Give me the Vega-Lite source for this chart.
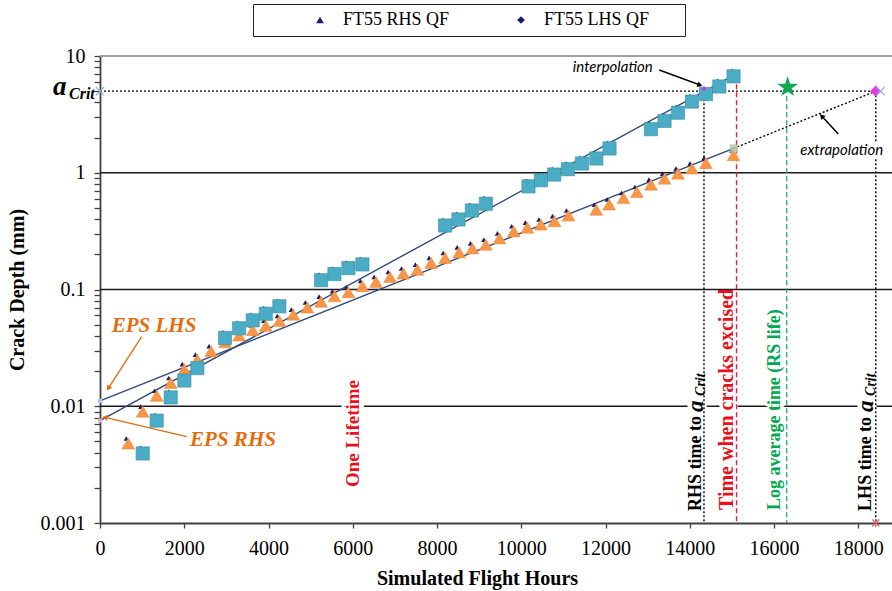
{
  "$schema": "https://vega.github.io/schema/vega-lite/v6.json",
  "width": 792,
  "height": 467,
  "autosize": {"type": "none"},
  "padding": {"left": 100, "top": 56, "right": 0, "bottom": 68},
  "background": "white",
  "config": {
    "view": {"stroke": null},
    "font": "Liberation Serif",
    "legend": {"labelFont": "Liberation Serif", "labelFontSize": 18},
    "style": {"guide-label": {"font": "Liberation Serif"}, "guide-title": {"font": "Liberation Serif"}}
  },
  "datasets": {
    "obs": [
      {"hours": 672, "depth": 0.0048, "series": "FT55 RHS QF"},
      {"hours": 1014, "depth": 0.0090, "series": "FT55 RHS QF"},
      {"hours": 1346, "depth": 0.0123, "series": "FT55 RHS QF"},
      {"hours": 1679, "depth": 0.0158, "series": "FT55 RHS QF"},
      {"hours": 2002, "depth": 0.0208, "series": "FT55 RHS QF"},
      {"hours": 2311, "depth": 0.0251, "series": "FT55 RHS QF"},
      {"hours": 2636, "depth": 0.0296, "series": "FT55 RHS QF"},
      {"hours": 2968, "depth": 0.0354, "series": "FT55 RHS QF"},
      {"hours": 3301, "depth": 0.0404, "series": "FT55 RHS QF"},
      {"hours": 3626, "depth": 0.0449, "series": "FT55 RHS QF"},
      {"hours": 3935, "depth": 0.0489, "series": "FT55 RHS QF"},
      {"hours": 4258, "depth": 0.0537, "series": "FT55 RHS QF"},
      {"hours": 4590, "depth": 0.0609, "series": "FT55 RHS QF"},
      {"hours": 4923, "depth": 0.0701, "series": "FT55 RHS QF"},
      {"hours": 5248, "depth": 0.0787, "series": "FT55 RHS QF"},
      {"hours": 5564, "depth": 0.0875, "series": "FT55 RHS QF"},
      {"hours": 5896, "depth": 0.0948, "series": "FT55 RHS QF"},
      {"hours": 6229, "depth": 0.107, "series": "FT55 RHS QF"},
      {"hours": 6554, "depth": 0.116, "series": "FT55 RHS QF"},
      {"hours": 6887, "depth": 0.128, "series": "FT55 RHS QF"},
      {"hours": 7203, "depth": 0.137, "series": "FT55 RHS QF"},
      {"hours": 7535, "depth": 0.148, "series": "FT55 RHS QF"},
      {"hours": 7860, "depth": 0.169, "series": "FT55 RHS QF"},
      {"hours": 8193, "depth": 0.186, "series": "FT55 RHS QF"},
      {"hours": 8525, "depth": 0.208, "series": "FT55 RHS QF"},
      {"hours": 8841, "depth": 0.225, "series": "FT55 RHS QF"},
      {"hours": 9159, "depth": 0.242, "series": "FT55 RHS QF"},
      {"hours": 9482, "depth": 0.274, "series": "FT55 RHS QF"},
      {"hours": 9820, "depth": 0.315, "series": "FT55 RHS QF"},
      {"hours": 10145, "depth": 0.339, "series": "FT55 RHS QF"},
      {"hours": 10466, "depth": 0.360, "series": "FT55 RHS QF"},
      {"hours": 10789, "depth": 0.385, "series": "FT55 RHS QF"},
      {"hours": 11121, "depth": 0.430, "series": "FT55 RHS QF"},
      {"hours": 11781, "depth": 0.482, "series": "FT55 RHS QF"},
      {"hours": 12087, "depth": 0.535, "series": "FT55 RHS QF"},
      {"hours": 12427, "depth": 0.607, "series": "FT55 RHS QF"},
      {"hours": 12745, "depth": 0.684, "series": "FT55 RHS QF"},
      {"hours": 13078, "depth": 0.791, "series": "FT55 RHS QF"},
      {"hours": 13401, "depth": 0.891, "series": "FT55 RHS QF"},
      {"hours": 13719, "depth": 0.984, "series": "FT55 RHS QF"},
      {"hours": 14052, "depth": 1.087, "series": "FT55 RHS QF"},
      {"hours": 14384, "depth": 1.21, "series": "FT55 RHS QF"},
      {"hours": 15039, "depth": 1.415, "series": "FT55 RHS QF"},
      {"hours": 1014, "depth": 0.00394, "series": "FT55 LHS QF"},
      {"hours": 1346, "depth": 0.00753, "series": "FT55 LHS QF"},
      {"hours": 1679, "depth": 0.0119, "series": "FT55 LHS QF"},
      {"hours": 2002, "depth": 0.0166, "series": "FT55 LHS QF"},
      {"hours": 2311, "depth": 0.0212, "series": "FT55 LHS QF"},
      {"hours": 2968, "depth": 0.0385, "series": "FT55 LHS QF"},
      {"hours": 3301, "depth": 0.0465, "series": "FT55 LHS QF"},
      {"hours": 3626, "depth": 0.0544, "series": "FT55 LHS QF"},
      {"hours": 3935, "depth": 0.0620, "series": "FT55 LHS QF"},
      {"hours": 4258, "depth": 0.0718, "series": "FT55 LHS QF"},
      {"hours": 5248, "depth": 0.120, "series": "FT55 LHS QF"},
      {"hours": 5564, "depth": 0.1355, "series": "FT55 LHS QF"},
      {"hours": 5896, "depth": 0.1525, "series": "FT55 LHS QF"},
      {"hours": 6229, "depth": 0.164, "series": "FT55 LHS QF"},
      {"hours": 8193, "depth": 0.353, "series": "FT55 LHS QF"},
      {"hours": 8509, "depth": 0.398, "series": "FT55 LHS QF"},
      {"hours": 8827, "depth": 0.475, "series": "FT55 LHS QF"},
      {"hours": 9159, "depth": 0.543, "series": "FT55 LHS QF"},
      {"hours": 10171, "depth": 0.765, "series": "FT55 LHS QF"},
      {"hours": 10466, "depth": 0.862, "series": "FT55 LHS QF"},
      {"hours": 10781, "depth": 0.965, "series": "FT55 LHS QF"},
      {"hours": 11107, "depth": 1.072, "series": "FT55 LHS QF"},
      {"hours": 11439, "depth": 1.20, "series": "FT55 LHS QF"},
      {"hours": 11781, "depth": 1.325, "series": "FT55 LHS QF"},
      {"hours": 12095, "depth": 1.615, "series": "FT55 LHS QF"},
      {"hours": 13078, "depth": 2.36, "series": "FT55 LHS QF"},
      {"hours": 13401, "depth": 2.78, "series": "FT55 LHS QF"},
      {"hours": 13719, "depth": 3.27, "series": "FT55 LHS QF"},
      {"hours": 14052, "depth": 4.07, "series": "FT55 LHS QF"},
      {"hours": 14384, "depth": 4.72, "series": "FT55 LHS QF"},
      {"hours": 14700, "depth": 5.48, "series": "FT55 LHS QF"},
      {"hours": 15039, "depth": 6.69, "series": "FT55 LHS QF"}
    ],
    "fits": [
      {"hours": 0, "depth": 0.00753, "line": "RHS fit"},
      {"hours": 15040, "depth": 6.83, "line": "RHS fit"},
      {"hours": 0, "depth": 0.01113, "line": "LHS fit"},
      {"hours": 15040, "depth": 1.62, "line": "LHS fit"},
      {"hours": 15040, "depth": 1.62, "line": "extrapolation"},
      {"hours": 18415, "depth": 5.0, "line": "extrapolation"},
      {"hours": 0, "depth": 5.0, "line": "a_Crit"},
      {"hours": 18415, "depth": 5.0, "line": "a_Crit"}
    ],
    "verticals": [
      {"hours": 14337, "depth": 5.0, "depth2": 0.001, "event": "RHS time to a_Crit"},
      {"hours": 18415, "depth": 5.0, "depth2": 0.001, "event": "LHS time to a_Crit"},
      {"hours": 15110, "depth": 6.7, "depth2": 0.001, "event": "Time when cracks excised"},
      {"hours": 16300, "depth": 5.3, "depth2": 0.001, "event": "Log average time (RS life)"}
    ],
    "grid": [
      {"depth": 10, "kind": "top"},
      {"depth": 1, "kind": "decade"},
      {"depth": 0.1, "kind": "decade"},
      {"depth": 0.01, "kind": "decade"}
    ],
    "markers": [
      {"hours": 0, "depth": 0.01113, "marker": "EPS LHS"},
      {"hours": 0, "depth": 0.00753, "marker": "EPS RHS"},
      {"hours": 15040, "depth": 1.62, "marker": "LHS last"},
      {"hours": 14337, "depth": 5.3, "marker": "interpolation"},
      {"hours": 18415, "depth": 5.0, "marker": "extrapolation"},
      {"hours": 16323, "depth": 5.4, "marker": "RS life"},
      {"hours": 0, "depth": 5.0, "marker": "cross blue"},
      {"hours": 18530, "depth": 5.0, "marker": "cross blue"},
      {"hours": 18415, "depth": 0.001, "marker": "cross red"}
    ],
    "labels": [
      {"hours": 6000, "depth": 0.00203, "text": "One Lifetime", "kind": "lifetime"},
      {"hours": 14883, "depth": 0.00129, "text": "Time when cracks excised", "kind": "excised"},
      {"hours": 16022, "depth": 0.00129, "text": "Log average time (RS life)", "kind": "rslife"},
      {"hours": 14159, "depth": 0.00127, "text": "RHS time to", "kind": "time"},
      {"hours": 18194, "depth": 0.00127, "text": "LHS time to", "kind": "time"},
      {"hours": 14159, "depth": 0.00893, "text": "a", "kind": "rot a"},
      {"hours": 18194, "depth": 0.00893, "text": "a", "kind": "rot a"},
      {"hours": 14159, "depth": 0.01225, "text": "Crit", "kind": "rot crit"},
      {"hours": 18194, "depth": 0.01225, "text": "Crit", "kind": "rot crit"},
      {"hours": 1282, "depth": 0.0432, "text": "EPS LHS", "kind": "eps"},
      {"hours": 3157, "depth": 0.00457, "text": "EPS RHS", "kind": "eps"},
      {"hours": 12172, "depth": 7.29, "text": "interpolation", "kind": "note"},
      {"hours": 17606, "depth": 1.419, "text": "extrapolation", "kind": "note"},
      {"hours": 0, "depth": 5.0, "text": "a", "kind": "acrit a"},
      {"hours": 0, "depth": 5.0, "text": "Crit", "kind": "acrit crit"}
    ],
    "arrows": [
      {"hours": 990, "depth": 0.0394, "hours2": 197, "depth2": 0.01425, "arrow": "EPS LHS"},
      {"hours": 2058, "depth": 0.00549, "hours2": 119, "depth2": 0.00804, "arrow": "EPS RHS"},
      {"hours": 13276, "depth": 7.59, "hours2": 14242, "depth2": 5.64, "arrow": "interpolation"},
      {"hours": 17525, "depth": 2.147, "hours2": 17131, "depth2": 3.06, "arrow": "extrapolation"}
    ]
  },
  "encoding": {
    "x": {
      "field": "hours", "type": "quantitative",
      "scale": {"domain": [0, 18800]},
      "axis": {
        "title": "Simulated Flight Hours",
        "titleFont": "Liberation Serif", "titleFontSize": 20, "titleFontWeight": "bold", "titleColor": "#000",
        "titleX": 377, "titleY": 55, "titleAlign": "center", "titleBaseline": "middle",
        "values": [0, 2000, 4000, 6000, 8000, 10000, 12000, 14000, 16000, 18000],
        "format": "d",
        "labelFont": "Liberation Serif", "labelFontSize": 20, "labelColor": "#000", "labelPadding": 10,
        "tickSize": 5, "tickColor": "#404040", "tickWidth": 1.3,
        "domainColor": "#404040", "domainWidth": 1.8, "grid": false, "labelOverlap": false, "labelBound": false, "labelFlush": false
      }
    },
    "y": {
      "field": "depth", "type": "quantitative",
      "scale": {"type": "log", "domain": [0.001, 10]},
      "axis": {
        "title": "Crack Depth (mm)",
        "titleFont": "Liberation Serif", "titleFontSize": 20, "titleFontWeight": "bold", "titleColor": "#000",
        "titleAngle": 270, "titleX": -83, "titleY": 233.5, "titleAlign": "center", "titleBaseline": "middle",
        "values": [0.001, 0.002, 0.003, 0.004, 0.005, 0.006, 0.007, 0.008, 0.009, 0.01, 0.02, 0.03, 0.04, 0.05, 0.06, 0.07, 0.08, 0.09, 0.1, 0.2, 0.3, 0.4, 0.5, 0.6, 0.7, 0.8, 0.9, 1, 2, 3, 4, 5, 6, 7, 8, 9, 10],
        "labelExpr": "abs(log(datum.value)/LN10 - round(log(datum.value)/LN10)) < 0.000001 ? format(datum.value, '~g') : ''",
        "labelFont": "Liberation Serif", "labelFontSize": 20, "labelColor": "#000", "labelPadding": 9,
        "tickSize": 6, "tickColor": "#404040", "tickWidth": 1.3,
        "domainColor": "#404040", "domainWidth": 1.8, "grid": false, "labelOverlap": false, "labelBound": false
      }
    }
  },
  "layer": [
    {
      "data": {"name": "grid"},
      "transform": [{"filter": "datum.kind == 'decade'"}],
      "mark": {"type": "rule", "color": "#1a1a1a", "strokeWidth": 1.4},
      "encoding": {"x": null}
    },
    {
      "data": {"name": "grid"},
      "transform": [{"filter": "datum.kind == 'top'"}],
      "mark": {"type": "rule", "color": "#a0a0a0", "strokeWidth": 2},
      "encoding": {"x": null}
    },
    {
      "data": {"name": "labels"},
      "transform": [{"filter": "datum.kind == 'lifetime' || datum.kind == 'excised' || datum.kind == 'rslife' || datum.kind == 'time'"}],
      "mark": {"type": "text", "angle": 270, "align": "left", "baseline": "middle", "font": "Liberation Serif", "fontWeight": "bold", "fontSize": 19, "color": "white", "stroke": "white", "strokeWidth": 9},
      "encoding": {"text": {"field": "text"}}
    },
    {
      "data": {"name": "labels"},
      "transform": [{"filter": "datum.kind == 'rot a' || datum.kind == 'rot crit'"}],
      "mark": {"type": "text", "angle": 270, "align": "left", "baseline": "middle", "font": "Liberation Serif", "fontWeight": "bold", "fontStyle": "italic", "fontSize": 20, "color": "white", "stroke": "white", "strokeWidth": 9},
      "encoding": {"text": {"field": "text"}}
    },
    {
      "data": {"name": "fits"},
      "transform": [{"filter": "datum.line == 'RHS fit' || datum.line == 'LHS fit'"}],
      "mark": {"type": "line", "color": "#2F4A7A", "strokeWidth": 1.4},
      "encoding": {"detail": {"field": "line"}}
    },
    {
      "data": {"name": "fits"},
      "transform": [{"filter": "datum.line == 'extrapolation' || datum.line == 'a_Crit'"}],
      "mark": {"type": "line", "color": "#000", "strokeWidth": 1.4, "strokeDash": [2, 2]},
      "encoding": {"detail": {"field": "line"}}
    },
    {
      "data": {"name": "verticals"},
      "transform": [{"filter": "indexof(datum.event, 'time to') >= 0"}],
      "mark": {"type": "rule", "color": "#000", "strokeWidth": 1.4, "strokeDash": [2, 2]},
      "encoding": {"y2": {"field": "depth2"}}
    },
    {
      "data": {"name": "verticals"},
      "transform": [{"filter": "datum.event == 'Time when cracks excised'"}],
      "mark": {"type": "rule", "color": "#E8202A", "strokeWidth": 1.4, "strokeDash": [5, 3]},
      "encoding": {"y2": {"field": "depth2"}}
    },
    {
      "data": {"name": "verticals"},
      "transform": [{"filter": "datum.event == 'Log average time (RS life)'"}],
      "mark": {"type": "rule", "color": "#22B09A", "strokeWidth": 1.4, "strokeDash": [5, 3]},
      "encoding": {"y2": {"field": "depth2"}}
    },
    {
      "data": {"name": "labels"},
      "transform": [{"filter": "datum.kind == 'note' && datum.text == 'extrapolation'"}],
      "mark": {"type": "text", "align": "center", "baseline": "alphabetic", "font": "Lato", "fontStyle": "italic", "fontSize": 15, "color": "white", "stroke": "white", "strokeWidth": 8},
      "encoding": {"text": {"field": "text"}}
    },
    {
      "data": {"name": "obs"},
      "mark": {"type": "point", "filled": true, "size": 28, "color": "#1A1A6E", "opacity": 1, "xOffset": -2, "yOffset": -5},
      "encoding": {
        "shape": {
          "field": "series", "type": "nominal",
          "scale": {"domain": ["FT55 RHS QF", "FT55 LHS QF"], "range": ["triangle-up", "diamond"]},
          "legend": {
            "orient": "none", "legendX": 153, "legendY": -52, "direction": "horizontal",
            "title": "\u00a0", "titleOrient": "right", "titlePadding": 29, "titleFontSize": 18,
            "strokeColor": "#222", "fillColor": "white", "padding": 7,
            "labelFont": "Liberation Serif", "labelFontSize": 18, "labelColor": "#000",
            "symbolFillColor": "#1A1A6E", "symbolStrokeColor": "#1A1A6E", "symbolSize": 60,
            "symbolOffset": 51, "labelOffset": 14, "columnPadding": 11
          }
        }
      }
    },
    {
      "data": {"name": "obs"},
      "transform": [{"filter": "datum.series == 'FT55 RHS QF'"}],
      "mark": {"type": "point", "shape": "triangle-up", "filled": true, "size": 165, "color": "#F79646", "stroke": "#E58A3A", "strokeWidth": 0.5, "opacity": 1}
    },
    {
      "data": {"name": "obs"},
      "transform": [{"filter": "datum.series == 'FT55 LHS QF'"}],
      "mark": {"type": "point", "shape": "square", "filled": true, "size": 175, "color": "#4BACC6", "stroke": "#3A8CA4", "strokeWidth": 0.6, "opacity": 1}
    },
    {
      "data": {"name": "markers"},
      "transform": [{"filter": "datum.marker == 'EPS LHS'"}],
      "mark": {"type": "point", "shape": "square", "filled": true, "size": 18, "color": "#B4C6E0", "opacity": 1}
    },
    {
      "data": {"name": "markers"},
      "transform": [{"filter": "datum.marker == 'EPS RHS'"}],
      "mark": {"type": "point", "shape": "square", "filled": true, "size": 18, "color": "#D8B4B4", "opacity": 1}
    },
    {
      "data": {"name": "markers"},
      "transform": [{"filter": "datum.marker == 'LHS last'"}],
      "mark": {"type": "point", "shape": "square", "filled": true, "size": 60, "color": "#B5C9A8", "opacity": 0.85}
    },
    {
      "data": {"name": "markers"},
      "transform": [{"filter": "datum.marker == 'interpolation'"}],
      "mark": {"type": "point", "shape": "triangle-up", "filled": true, "size": 25, "color": "#E020E0", "opacity": 1}
    },
    {
      "data": {"name": "markers"},
      "transform": [{"filter": "datum.marker == 'extrapolation'"}],
      "mark": {"type": "point", "shape": "diamond", "filled": true, "size": 130, "color": "#E838E0", "opacity": 1}
    },
    {
      "data": {"name": "markers"},
      "transform": [{"filter": "datum.marker == 'RS life'"}],
      "mark": {"type": "point", "filled": true, "size": 480, "color": "#10A850", "opacity": 1, "shape": "M0,-1L0.2245,-0.309L0.9511,-0.309L0.3633,0.118L0.5878,0.809L0,0.382L-0.5878,0.809L-0.3633,0.118L-0.9511,-0.309L-0.2245,-0.309Z"}
    },
    {
      "data": {"name": "markers"},
      "transform": [{"filter": "datum.marker == 'cross blue'"}],
      "mark": {"type": "point", "filled": false, "size": 70, "color": "#8EB4E3", "strokeWidth": 1.2, "opacity": 1, "shape": "M-1,-1L1,1M-1,1L1,-1"}
    },
    {
      "data": {"name": "markers"},
      "transform": [{"filter": "datum.marker == 'cross red'"}],
      "mark": {"type": "point", "filled": false, "size": 50, "color": "#E06666", "strokeWidth": 1.2, "opacity": 1, "shape": "M-1,-1L1,1M-1,1L1,-1M0,-1.2L0,1.2"}
    },
    {
      "data": {"name": "arrows"},
      "transform": [{"filter": "datum.arrow == 'EPS LHS' || datum.arrow == 'EPS RHS'"}],
      "mark": {"type": "rule", "color": "#E46C0A", "strokeWidth": 1.3},
      "encoding": {"x2": {"field": "hours2"}, "y2": {"field": "depth2"}}
    },
    {
      "data": {"name": "arrows"},
      "transform": [{"filter": "datum.arrow == 'interpolation' || datum.arrow == 'extrapolation'"}],
      "mark": {"type": "rule", "color": "#000", "strokeWidth": 1.5},
      "encoding": {"x2": {"field": "hours2"}, "y2": {"field": "depth2"}}
    },
    {
      "data": {"name": "arrows"},
      "transform": [{"filter": "datum.arrow == 'EPS LHS'"}],
      "mark": {"type": "point", "shape": "triangle-up", "filled": true, "size": 35, "color": "#E46C0A", "angle": 213, "opacity": 1},
      "encoding": {"x": {"field": "hours2", "type": "quantitative"}, "y": {"field": "depth2", "type": "quantitative"}}
    },
    {
      "data": {"name": "arrows"},
      "transform": [{"filter": "datum.arrow == 'EPS RHS'"}],
      "mark": {"type": "point", "shape": "triangle-up", "filled": true, "size": 35, "color": "#E46C0A", "angle": 283, "opacity": 1},
      "encoding": {"x": {"field": "hours2", "type": "quantitative"}, "y": {"field": "depth2", "type": "quantitative"}}
    },
    {
      "data": {"name": "arrows"},
      "transform": [{"filter": "datum.arrow == 'interpolation'"}],
      "mark": {"type": "point", "shape": "triangle-up", "filled": true, "size": 35, "color": "#000", "angle": 110, "opacity": 1},
      "encoding": {"x": {"field": "hours2", "type": "quantitative"}, "y": {"field": "depth2", "type": "quantitative"}}
    },
    {
      "data": {"name": "arrows"},
      "transform": [{"filter": "datum.arrow == 'extrapolation'"}],
      "mark": {"type": "point", "shape": "triangle-up", "filled": true, "size": 35, "color": "#000", "angle": 317, "opacity": 1},
      "encoding": {"x": {"field": "hours2", "type": "quantitative"}, "y": {"field": "depth2", "type": "quantitative"}}
    },
    {
      "data": {"name": "labels"},
      "transform": [{"filter": "datum.kind == 'lifetime'"}],
      "mark": {"type": "text", "angle": 270, "align": "left", "baseline": "middle", "font": "Liberation Serif", "fontWeight": "bold", "fontSize": 19, "color": "#E8101A"},
      "encoding": {"text": {"field": "text"}}
    },
    {
      "data": {"name": "labels"},
      "transform": [{"filter": "datum.kind == 'excised'"}],
      "mark": {"type": "text", "angle": 270, "align": "left", "baseline": "middle", "font": "Liberation Serif", "fontWeight": "bold", "fontSize": 20, "color": "#E8101A"},
      "encoding": {"text": {"field": "text"}}
    },
    {
      "data": {"name": "labels"},
      "transform": [{"filter": "datum.kind == 'rslife'"}],
      "mark": {"type": "text", "angle": 270, "align": "left", "baseline": "middle", "font": "Liberation Serif", "fontWeight": "bold", "fontSize": 18, "color": "#00A850"},
      "encoding": {"text": {"field": "text"}}
    },
    {
      "data": {"name": "labels"},
      "transform": [{"filter": "datum.kind == 'time'"}],
      "mark": {"type": "text", "angle": 270, "align": "left", "baseline": "middle", "font": "Liberation Serif", "fontWeight": "bold", "fontSize": 18, "color": "#000"},
      "encoding": {"text": {"field": "text"}}
    },
    {
      "data": {"name": "labels"},
      "transform": [{"filter": "datum.kind == 'rot a'"}],
      "mark": {"type": "text", "angle": 270, "align": "left", "baseline": "middle", "font": "Liberation Serif", "fontWeight": "bold", "fontStyle": "italic", "fontSize": 23, "color": "#000"},
      "encoding": {"text": {"field": "text"}}
    },
    {
      "data": {"name": "labels"},
      "transform": [{"filter": "datum.kind == 'rot crit'"}],
      "mark": {"type": "text", "angle": 270, "align": "left", "baseline": "middle", "dy": 5, "font": "Liberation Serif", "fontWeight": "bold", "fontStyle": "italic", "fontSize": 14, "color": "#000"},
      "encoding": {"text": {"field": "text"}}
    },
    {
      "data": {"name": "labels"},
      "transform": [{"filter": "datum.kind == 'eps'"}],
      "mark": {"type": "text", "align": "center", "baseline": "alphabetic", "font": "Liberation Serif", "fontWeight": "bold", "fontStyle": "italic", "fontSize": 21, "color": "#E46C0A"},
      "encoding": {"text": {"field": "text"}}
    },
    {
      "data": {"name": "labels"},
      "transform": [{"filter": "datum.kind == 'note'"}],
      "mark": {"type": "text", "align": "center", "baseline": "alphabetic", "font": "Lato", "fontStyle": "italic", "fontSize": 15, "color": "#000"},
      "encoding": {"text": {"field": "text"}}
    },
    {
      "data": {"name": "labels"},
      "transform": [{"filter": "datum.kind == 'acrit a'"}],
      "mark": {"type": "text", "align": "left", "baseline": "alphabetic", "dx": -47, "dy": 4, "font": "Liberation Serif", "fontWeight": "bold", "fontStyle": "italic", "fontSize": 27, "color": "#000"},
      "encoding": {"text": {"field": "text"}}
    },
    {
      "data": {"name": "labels"},
      "transform": [{"filter": "datum.kind == 'acrit crit'"}],
      "mark": {"type": "text", "align": "left", "baseline": "alphabetic", "dx": -31, "dy": 8, "font": "Liberation Serif", "fontWeight": "bold", "fontStyle": "italic", "fontSize": 16, "color": "#000"},
      "encoding": {"text": {"field": "text"}}
    }
  ]
}
